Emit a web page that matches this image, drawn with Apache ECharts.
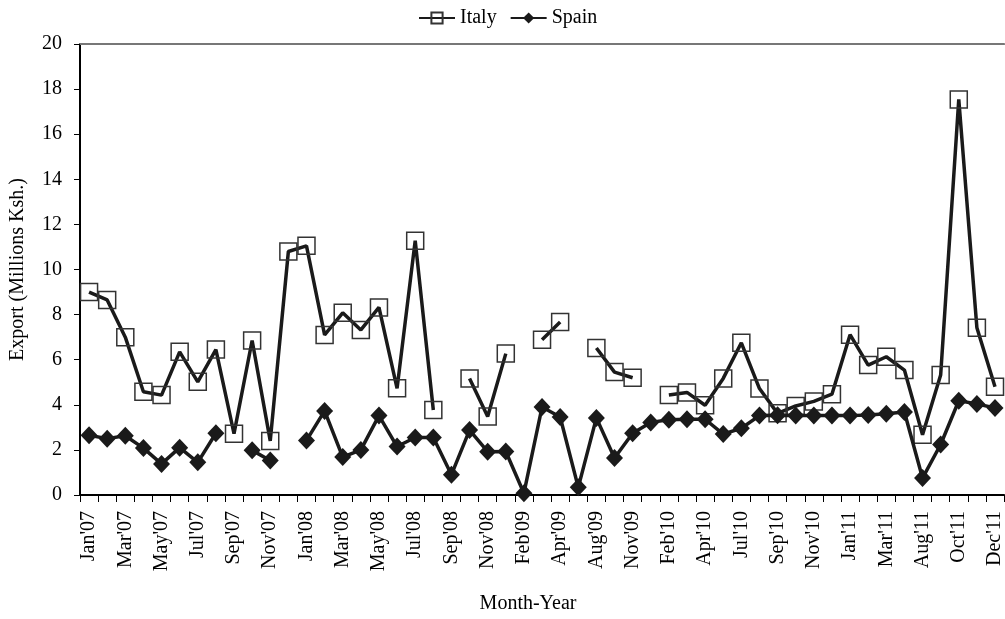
<!DOCTYPE html>
<html>
<head>
<meta charset="utf-8">
<script src="https://cdn.jsdelivr.net/npm/echarts@6/dist/echarts.min.js"></script>
<style>html,body{margin:0;padding:0;background:#fff;}#c{width:1005px;height:619px;}</style>
</head>
<body>
<div id="c"></div>
<script>
const categories = [
 "Jan'07","Feb'07","Mar'07","Apr'07","May'07","Jun'07","Jul'07","Aug'07","Sep'07","Oct'07",
 "Nov'07","Dec'07","Jan'08","Feb'08","Mar'08","Apr'08","May'08","Jun'08","Jul'08","Aug'08",
 "Sep'08","Oct'08","Nov'08","Dec'08","Feb'09","Mar'09","Apr'09","Jun'09","Aug'09","Oct'09",
 "Nov'09","Jan'10","Feb'10","Mar'10","Apr'10","Jun'10","Jul'10","Aug'10","Sep'10","Oct'10",
 "Nov'10","Dec'10","Jan'11","Feb'11","Mar'11","Jun'11","Aug'11","Sep'11","Oct'11","Nov'11",
 "Dec'11"
];
const italy = [
 9.0, 8.65, 7.0, 4.58, 4.43, 6.35, 5.02, 6.45, 2.72, 6.85,
 2.4, 10.8, 11.05, 7.1, 8.08, 7.32, 8.32, 4.73, 11.28, 3.77,
 null, 5.17, 3.48, 6.27, null, 6.88, 7.67, null, 6.52, 5.45,
 5.2, null, 4.43, 4.55, 3.98, 5.17, 6.75, 4.72, 3.62, 3.95,
 4.15, 4.47, 7.11, 5.76, 6.13, 5.54, 2.67, 5.32, 17.54, 7.42,
 4.8
];
const spain = [
 2.65, 2.5, 2.63, 2.08, 1.38, 2.1, 1.45, 2.74, null, 1.98,
 1.53, null, 2.42, 3.73, 1.68, 2.0, 3.52, 2.15, 2.55, 2.55,
 0.9, 2.88, 1.92, 1.93, 0.08, 3.9, 3.46, 0.34, 3.42, 1.64,
 2.74, 3.22, 3.34, 3.36, 3.36, 2.7, 2.96, 3.52, 3.54, 3.52,
 3.52, 3.52, 3.52, 3.55, 3.6, 3.68, 0.75, 2.24, 4.18, 4.04,
 3.86
];
const yTicks = {min: 0, max: 20, interval: 2};

const FONT = "Liberation Serif";
const chart = echarts.init(document.getElementById('c'));
chart.setOption({
  animation: false,
  backgroundColor: '#fff',
  textStyle: {fontFamily: FONT, color: '#000'},
  legend: {
    top: 3, left: 413,
    itemWidth: 36, itemHeight: 14, itemGap: 13,
    textStyle: {fontFamily: FONT, fontSize: 20, color: '#000'},
    data: ['Italy', 'Spain']
  },
  grid: {left: 80, right: 0, top: 44, bottom: 122},
  xAxis: [{
    type: 'category',
    data: categories,
    boundaryGap: true,
    name: 'Month-Year',
    nameLocation: 'middle',
    nameGap: 99,
    nameTextStyle: {fontFamily: FONT, fontSize: 20, color: '#000', padding: [0, 28, 0, 0]},
    axisLine: {lineStyle: {color: '#000', width: 2}},
    axisTick: {show: true, interval: 0, length: 7, lineStyle: {color: '#000', width: 1}},
    axisLabel: {interval: 1, rotate: 90, margin: 16, fontFamily: FONT, fontSize: 20, color: '#000'},
    splitLine: {show: false}
  }, {
    type: 'category',
    data: categories,
    position: 'top',
    axisLine: {show: true, lineStyle: {color: '#777', width: 2}},
    axisTick: {show: false},
    axisLabel: {show: false},
    splitLine: {show: false}
  }],
  yAxis: {
    type: 'value',
    min: yTicks.min, max: yTicks.max, interval: yTicks.interval,
    name: 'Export (Millions Ksh.)',
    nameLocation: 'middle',
    nameGap: 52,
    nameRotate: 90,
    nameTextStyle: {fontFamily: FONT, fontSize: 20, color: '#000'},
    axisLine: {show: true, lineStyle: {color: '#000', width: 2}},
    axisTick: {show: true, length: 6, lineStyle: {color: '#000', width: 1}},
    axisLabel: {margin: 18, fontFamily: FONT, fontSize: 20, color: '#000'},
    splitLine: {show: false}
  },
  series: [{
    name: 'Italy',
    type: 'line',
    data: italy,
    connectNulls: false,
    symbol: 'rect',
    symbolSize: 17,
    showAllSymbol: true,
    lineStyle: {color: '#1a1a1a', width: 3.5},
    itemStyle: {color: 'rgba(255,255,255,0)', borderColor: '#333', borderWidth: 1.5},
    z: 2
  }, {
    name: 'Spain',
    type: 'line',
    data: spain,
    connectNulls: false,
    symbol: 'diamond',
    symbolSize: [17, 18],
    showAllSymbol: true,
    lineStyle: {color: '#1a1a1a', width: 3.5},
    itemStyle: {color: '#1a1a1a', borderColor: '#1a1a1a', borderWidth: 0},
    z: 3
  }]
});
</script>
</body>
</html>
